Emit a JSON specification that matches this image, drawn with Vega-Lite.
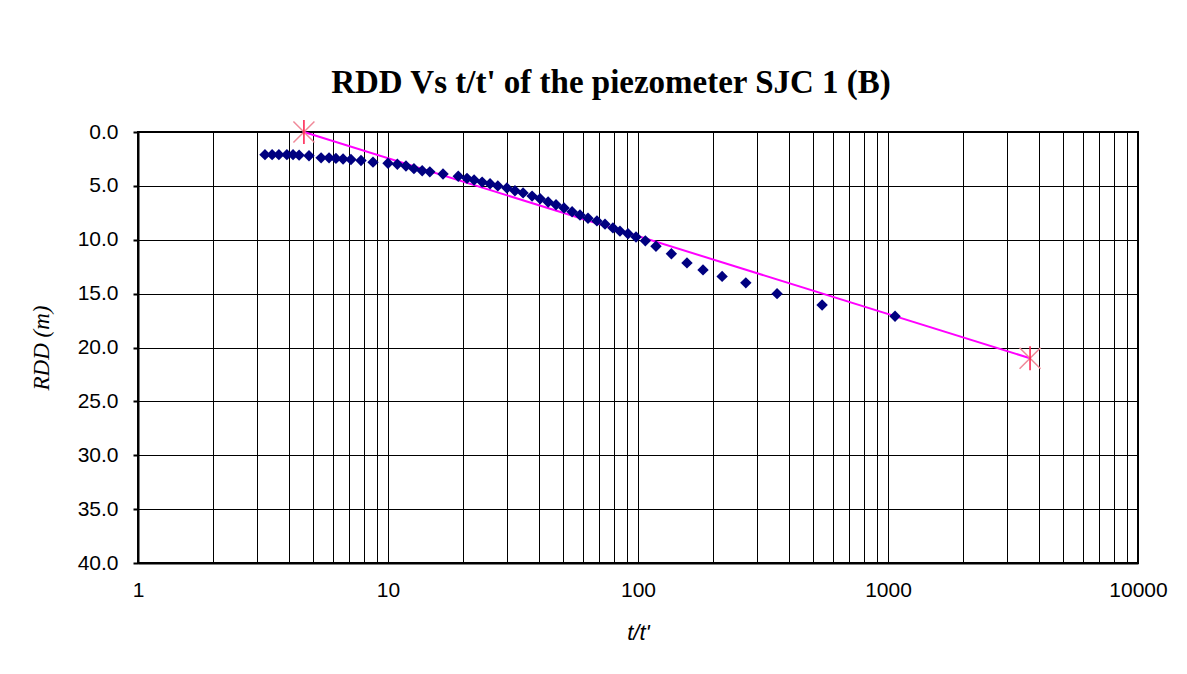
{
  "$schema": "https://vega.github.io/schema/vega-lite/v6.json",
  "width": 1000,
  "height": 431,
  "autosize": {"type": "none"},
  "padding": {"left": 138, "top": 132, "right": 49, "bottom": 111},
  "background": "white",
  "title": {
    "text": "RDD Vs t/t' of the piezometer SJC 1 (B)",
    "font": "Liberation Serif",
    "fontSize": 33,
    "fontWeight": "bold",
    "color": "black",
    "anchor": "middle",
    "frame": "group",
    "baseline": "alphabetic",
    "offset": -9,
    "dx": -27
  },
  "config": {
    "view": {"stroke": "black", "strokeWidth": 2},
    "axis": {
      "labelFont": "Liberation Sans",
      "labelFontSize": 21,
      "labelColor": "black",
      "gridColor": "black",
      "gridOpacity": 1,
      "gridWidth": 1,
      "domainColor": "black",
      "domainWidth": 2,
      "tickColor": "black",
      "titleColor": "black",
      "titleFontWeight": "normal",
      "titleFontStyle": "italic"
    }
  },
  "datasets": {
    "obs": [
      {"tt": 3.22, "rdd": 2.1},
      {"tt": 3.44, "rdd": 2.1},
      {"tt": 3.66, "rdd": 2.1},
      {"tt": 3.94, "rdd": 2.1},
      {"tt": 4.17, "rdd": 2.1},
      {"tt": 4.41, "rdd": 2.15},
      {"tt": 4.83, "rdd": 2.2},
      {"tt": 5.40, "rdd": 2.4},
      {"tt": 5.81, "rdd": 2.4},
      {"tt": 6.19, "rdd": 2.45},
      {"tt": 6.61, "rdd": 2.5},
      {"tt": 7.11, "rdd": 2.55},
      {"tt": 7.80, "rdd": 2.65},
      {"tt": 8.71, "rdd": 2.8},
      {"tt": 10.0, "rdd": 2.9},
      {"tt": 10.9, "rdd": 3.0},
      {"tt": 11.8, "rdd": 3.15},
      {"tt": 12.7, "rdd": 3.4},
      {"tt": 13.7, "rdd": 3.6},
      {"tt": 14.7, "rdd": 3.7},
      {"tt": 16.6, "rdd": 3.9},
      {"tt": 19.1, "rdd": 4.1},
      {"tt": 20.7, "rdd": 4.3},
      {"tt": 22.1, "rdd": 4.45},
      {"tt": 23.8, "rdd": 4.65},
      {"tt": 25.6, "rdd": 4.8},
      {"tt": 27.5, "rdd": 5.0},
      {"tt": 29.9, "rdd": 5.2},
      {"tt": 32.2, "rdd": 5.45},
      {"tt": 34.7, "rdd": 5.65},
      {"tt": 37.7, "rdd": 5.95},
      {"tt": 40.6, "rdd": 6.2},
      {"tt": 43.7, "rdd": 6.5},
      {"tt": 47.0, "rdd": 6.75},
      {"tt": 50.6, "rdd": 7.05},
      {"tt": 54.5, "rdd": 7.4},
      {"tt": 58.6, "rdd": 7.7},
      {"tt": 63.1, "rdd": 8.0},
      {"tt": 68.5, "rdd": 8.25},
      {"tt": 73.8, "rdd": 8.55},
      {"tt": 79.4, "rdd": 8.9},
      {"tt": 84.7, "rdd": 9.2},
      {"tt": 91.2, "rdd": 9.45},
      {"tt": 98.2, "rdd": 9.75},
      {"tt": 107, "rdd": 10.1},
      {"tt": 118, "rdd": 10.6},
      {"tt": 136, "rdd": 11.3},
      {"tt": 157, "rdd": 12.15},
      {"tt": 182, "rdd": 12.8},
      {"tt": 217, "rdd": 13.4},
      {"tt": 270, "rdd": 14.0},
      {"tt": 360, "rdd": 15.0},
      {"tt": 545, "rdd": 16.05},
      {"tt": 1067, "rdd": 17.1}
    ],
    "fit": [
      {"tt": 4.61, "rdd": 0.0},
      {"tt": 3700, "rdd": 21.0}
    ]
  },
  "encoding": {
    "x": {
      "field": "tt",
      "type": "quantitative",
      "scale": {"type": "log", "domain": [1, 10000], "nice": false},
      "axis": {
        "title": "t/t'",
        "titleFont": "Liberation Sans",
        "titleFontSize": 22,
        "titlePadding": 22,
        "values": [1,2,3,4,5,6,7,8,9,10,20,30,40,50,60,70,80,90,100,200,300,400,500,600,700,800,900,1000,2000,3000,4000,5000,6000,7000,8000,9000,10000],
        "labelExpr": "abs(log(datum.value)/log(10) - round(log(datum.value)/log(10))) < 0.000001 ? format(datum.value, 'd') : ''",
        "labelOverlap": false,
        "labelFlush": false,
        "labelPadding": 16,
        "ticks": false
      }
    },
    "y": {
      "field": "rdd",
      "type": "quantitative",
      "scale": {"domain": [0, 40], "reverse": true, "nice": false, "zero": false},
      "axis": {
        "title": "RDD (m)",
        "titleFont": "Liberation Serif",
        "titleFontSize": 23,
        "titlePadding": 24,
        "values": [0, 5, 10, 15, 20, 25, 30, 35, 40],
        "format": ".1f",
        "tickSize": 5,
        "tickWidth": 2,
        "labelPadding": 15
      }
    }
  },
  "layer": [
    {
      "data": {"name": "fit"},
      "mark": {"type": "line", "color": "#ff00ff", "strokeWidth": 2}
    },
    {
      "data": {"name": "obs"},
      "mark": {"type": "point", "shape": "diamond", "filled": true, "color": "#000080", "size": 130, "opacity": 1}
    },
    {
      "data": {"name": "fit"},
      "mark": {"type": "point", "shape": "M-0.7,-0.7L0.7,0.7M-0.7,0.7L0.7,-0.7", "filled": false, "stroke": "#f08898", "strokeWidth": 1.5, "size": 900, "opacity": 1}
    },
    {
      "data": {"name": "fit"},
      "mark": {"type": "point", "shape": "M0,-0.8L0,0.8", "filled": false, "stroke": "#ff1a4a", "strokeWidth": 1.5, "size": 900, "opacity": 1}
    }
  ]
}
